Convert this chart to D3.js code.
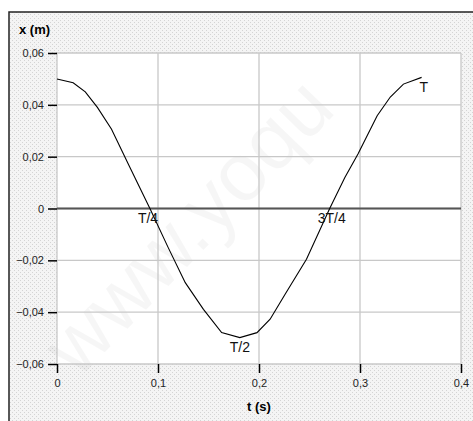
<!DOCTYPE html>
<html><head><meta charset="utf-8">
<script src="https://cdn.jsdelivr.net/npm/d3@7"></script>
<style>html,body{margin:0;padding:0;background:#fff}svg{display:block}</style>
</head><body>
<svg id="c" width="473" height="421"></svg>
<script>
const tValues = [0, 0.016, 0.028, 0.040, 0.054, 0.072, 0.092, 0.110, 0.127, 0.145, 0.163, 0.181, 0.198, 0.211, 0.226, 0.247, 0.270, 0.285, 0.298, 0.317, 0.330, 0.343, 0.361];
const xValues = [0.0500, 0.0485, 0.0450, 0.0390, 0.0306, 0.0160, 0.0000, -0.0150, -0.0286, -0.0389, -0.0479, -0.0498, -0.0479, -0.0427, -0.0330, -0.0196, 0.0000, 0.0120, 0.0210, 0.0358, 0.0430, 0.0480, 0.0506];
const xTicks = [0, 0.1, 0.2, 0.3, 0.4];
const yTicks = [-0.06, -0.04, -0.02, 0, 0.02, 0.04, 0.06];
const markers = [
  {t: 0.092, label: "T/4", dx: -12, y: -0.0055},
  {t: 0.181, label: "T/2", dx: -10, y: -0.0553},
  {t: 0.270, label: "3T/4", dx: -12, y: -0.0055},
  {t: 0.361, label: "T", dx: -2, y: 0.0449}
];
const fmt = v => v === 0 ? "0" : d3.format(".2f")(v).replace(".", ",");
const fmtX = v => v === 0 ? "0" : d3.format(".1f")(v).replace(".", ",");

const svg = d3.select("#c");
const defs = svg.append("defs");
const pat = defs.append("pattern").attr("id","stip").attr("width",4).attr("height",4).attr("patternUnits","userSpaceOnUse");
pat.append("rect").attr("width",4).attr("height",4).attr("fill","#f4f4f4");
pat.append("rect").attr("x",0).attr("y",0).attr("width",1).attr("height",1).attr("fill","#d4d4d4");
pat.append("rect").attr("x",2).attr("y",2).attr("width",1).attr("height",1).attr("fill","#d4d4d4");

svg.append("rect").attr("x",9).attr("y",12).attr("width",464).attr("height",409).attr("fill","url(#stip)");

const m = {l:57, r:461, t:53, b:364};
const x = d3.scaleLinear().domain([0,0.4]).range([m.l, m.r]);
const y = d3.scaleLinear().domain([-0.06,0.06]).range([m.b, m.t]);

svg.append("rect").attr("x",m.l).attr("y",m.t).attr("width",m.r-m.l).attr("height",m.b-m.t).attr("fill","#fff");

// watermark (faint)
svg.append("text").attr("transform","translate(78,380) rotate(-46)")
  .attr("font-family","Liberation Sans, Arial, sans-serif").attr("font-size",82)
  .attr("fill","#000").attr("fill-opacity",0.035).text("www.yoqu");

const g = svg.append("g");
g.selectAll(".gx").data(xTicks).join("line").attr("x1",d=>x(d)).attr("x2",d=>x(d)).attr("y1",m.t).attr("y2",m.b)
  .attr("stroke","#c8c8c8").attr("stroke-width",1.3);
g.selectAll(".gy").data(yTicks).join("line").attr("y1",d=>y(d)).attr("y2",d=>y(d)).attr("x1",m.l).attr("x2",m.r)
  .attr("stroke","#c8c8c8").attr("stroke-width",1.3);
svg.append("line").attr("x1",m.l).attr("x2",m.r).attr("y1",y(0)).attr("y2",y(0)).attr("stroke","#555").attr("stroke-width",2);

const ax = svg.append("g").attr("transform",`translate(0,${m.b})`)
  .call(d3.axisBottom(x).tickValues(xTicks).tickSize(9).tickPadding(6).tickFormat(fmtX));
const ay = svg.append("g").attr("transform",`translate(${m.l},0)`)
  .call(d3.axisLeft(y).tickValues(yTicks).tickSize(9).tickPadding(4).tickFormat(fmt));
[ax, ay].forEach(a => {
  a.select(".domain").remove();
  a.selectAll(".tick line").attr("stroke","#000").attr("stroke-width",1.5);
  a.selectAll(".tick text").attr("font-family","Liberation Sans, Arial, sans-serif").attr("font-size",11).attr("fill","#222");
});

const pts = tValues.map((t,i)=>[t, xValues[i]]);
svg.append("path").datum(pts).attr("fill","none").attr("stroke","#000").attr("stroke-width",1.1)
  .attr("d", d3.line().x(d=>x(d[0])).y(d=>y(d[1])));

svg.selectAll(".mk").data(markers).join("text")
  .attr("x",d=>x(d.t)+d.dx).attr("y",d=>y(d.y))
  .attr("font-family","Liberation Sans, Arial, sans-serif").attr("font-size",14).attr("fill","#111")
  .text(d=>d.label);

svg.append("text").attr("x",19).attr("y",34).attr("font-family","Liberation Sans, Arial, sans-serif")
  .attr("font-size",13).attr("font-weight","bold").text("x (m)");
svg.append("text").attr("x",x(0.2)).attr("y",411).attr("text-anchor","middle").attr("font-family","Liberation Sans, Arial, sans-serif")
  .attr("font-size",13).attr("font-weight","bold").text("t (s)");

svg.append("path").attr("d","M9,421V12H473").attr("fill","none").attr("stroke","#222").attr("stroke-width",1.5);
</script>
</body></html>
